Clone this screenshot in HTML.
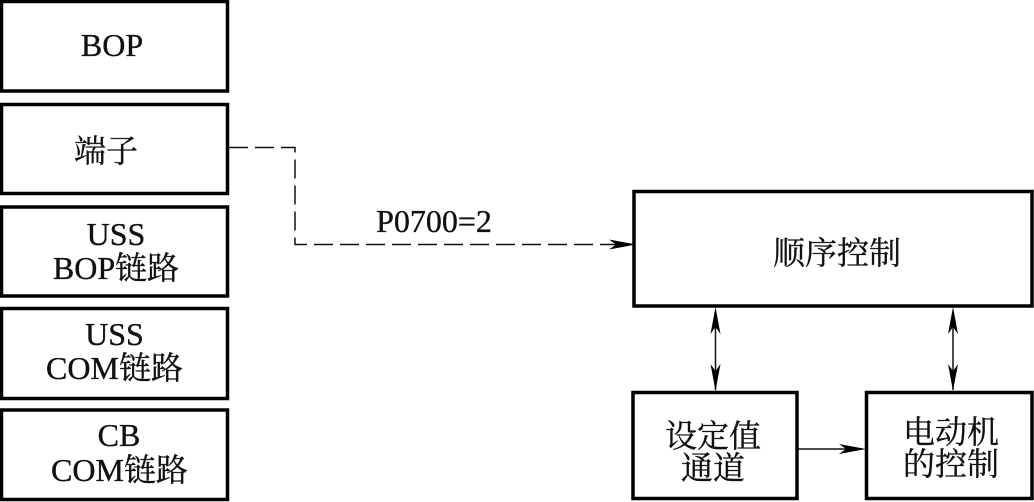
<!DOCTYPE html>
<html>
<head>
<meta charset="utf-8">
<style>
html,body{margin:0;padding:0;background:#fff;width:1034px;height:502px;overflow:hidden}
svg{display:block}
text{font-family:"Liberation Serif","Noto Serif CJK SC",serif;font-size:32px;fill:#111;stroke:#111;stroke-width:.35px;text-anchor:middle}
</style>
</head>
<body>
<svg width="1034" height="502" viewBox="0 0 1034 502" xmlns="http://www.w3.org/2000/svg">
<rect width="1034" height="502" fill="#fff"/>
<g fill="none" stroke="#000" stroke-width="3.500">
<rect x="1.500" y="1.500" width="226" height="89.500"/>
<rect x="1.500" y="104.500" width="226" height="89"/>
<rect x="1.500" y="207" width="226" height="89"/>
<rect x="1.500" y="308.500" width="226" height="90"/>
<rect x="1.500" y="410" width="226" height="89.500"/>
<rect x="634" y="191.500" width="398" height="114.500"/>
<rect x="633" y="392.500" width="164" height="106"/>
<rect x="866.500" y="392.500" width="165.500" height="106"/>
</g>
<path d="M229 147.500H295V244.500H620" fill="none" stroke="#111" stroke-width="1.500" stroke-dasharray="19 7"/>
<path d="M609 239.500 L636 244.500 L609 249.500 L616 244.500Z" fill="#000"/>
<g stroke="#111" stroke-width="1.500" fill="none">
<path d="M715.500 312V390"/>
<path d="M953 312V390"/>
<path d="M798 449H862"/>
</g>
<g fill="#000">
<path d="M715.500 307 L710.500 334 L715.500 327 L720.500 334Z"/>
<path d="M715.500 391 L710.500 364 L715.500 371 L720.500 364Z"/>
<path d="M953 307 L948 334 L953 327 L958 334Z"/>
<path d="M953 391 L948 364 L953 371 L958 364Z"/>
<path d="M866 449 L839 444 L846 449 L839 454Z"/>
</g>
<text x="112" y="56">BOP</text>
<text x="106" y="162">端子</text>
<text x="116" y="245">USS</text>
<text x="116" y="279">BOP链路</text>
<text x="114.500" y="345">USS</text>
<text x="114.500" y="379">COM链路</text>
<text x="119" y="446">CB</text>
<text x="119.500" y="481">COM链路</text>
<text x="434" y="232">P0700=2</text>
<text x="837" y="264">顺序控制</text>
<text x="713" y="447">设定值</text>
<text x="713" y="479">通道</text>
<text x="951" y="443">电动机</text>
<text x="951" y="475">的控制</text>
</svg>
</body>
</html>
